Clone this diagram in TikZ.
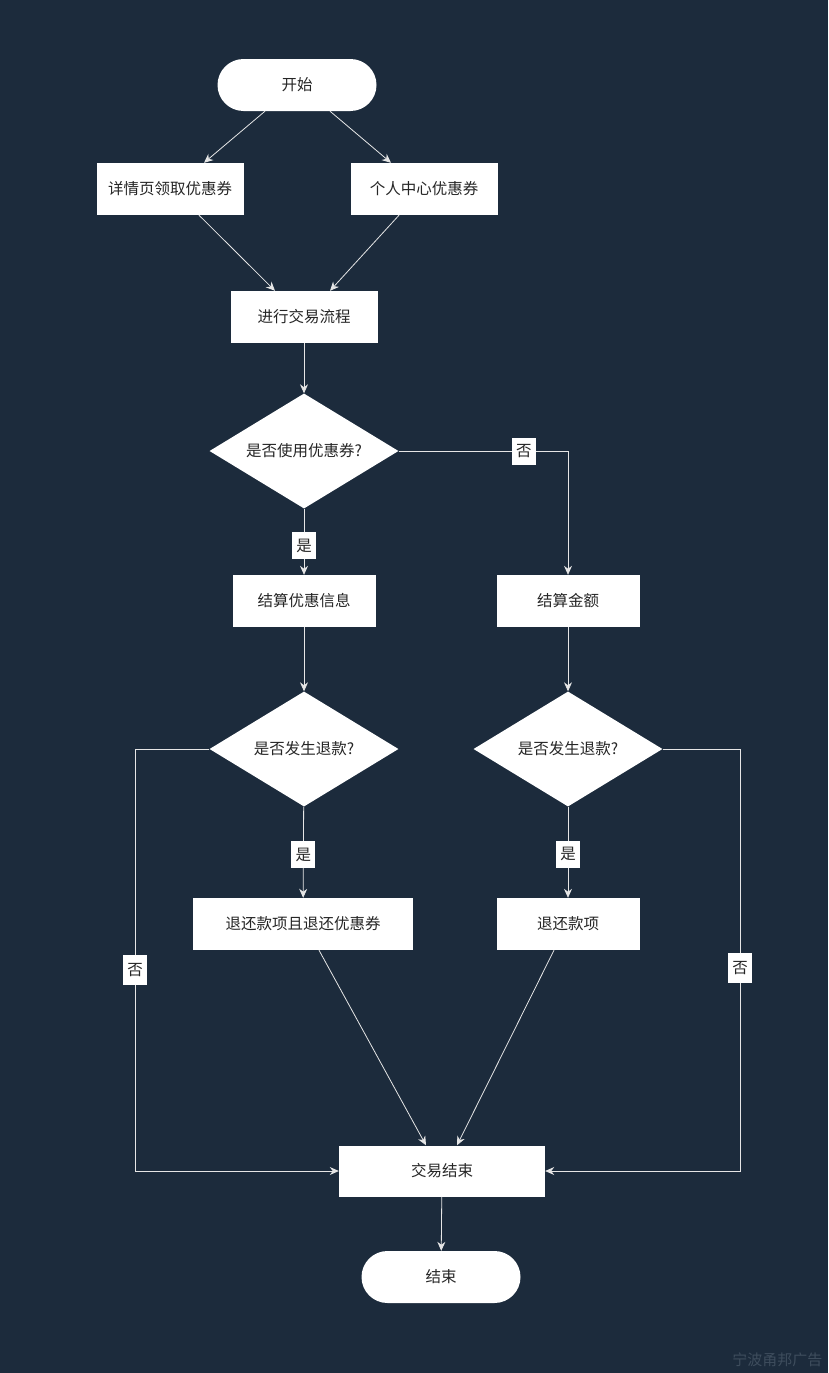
\documentclass[tikz,border=0pt]{standalone}
\usepackage{fontspec}
\setmainfont{Noto Sans CJK SC}
\usepackage{xcolor}
\usetikzlibrary{shapes,arrows,arrows.meta,positioning,calc}
\definecolor{bgnavy}{HTML}{1C2B3C}
\definecolor{edgegray}{HTML}{E6E6E6}
\definecolor{markgray}{HTML}{3E4D5D}

\begin{document}
\begin{tikzpicture}[
  x=1pt, y=-1pt,
  block/.style={fill=white, minimum width=147pt, minimum height=52pt, align=center, font=\fontsize{15.5}{18}\selectfont, text=black!85},
  term/.style={block, rounded corners=26pt, minimum width=159pt},
  decide/.style={diamond, fill=white, aspect=1.64, inner sep=0pt, minimum width=189pt, minimum height=115pt, align=center, font=\fontsize{15.5}{18}\selectfont, text=black!85},
  lbl/.style={fill=white, inner sep=3pt, minimum width=24pt, minimum height=27pt, font=\fontsize{15.5}{18}\selectfont, text=black!85},
  arrow/.style={-{Stealth[length=9pt, width=8pt]}, draw=edgegray, line width=0.8pt}
]
  % Background
  \fill[bgnavy] (0,0) rectangle (828,1373);

  % Start
  \node[term] (start) at (297, 85) {开始};

  % Coupon sources
  \node[block] (detail) at (170, 189) {详情页领取优惠券};
  \node[block] (center) at (424, 189) {个人中心优惠券};

  % Trade
  \node[block] (trade) at (304, 317) {进行交易流程};
  \node[decide] (use) at (304, 451) {是否使用优惠券?};

  % Settlement
  \node[block, minimum width=143pt] (calc) at (304, 601) {结算优惠信息};
  \node[block, minimum width=143pt] (pay) at (568, 601) {结算金额};

  % Refund checks
  \node[decide] (ref1) at (304, 749) {是否发生退款?};
  \node[decide] (ref2) at (568, 749) {是否发生退款?};

  % Refund actions
  \node[block, minimum width=220pt] (back1) at (303, 924) {退还款项且退还优惠券};
  \node[block, minimum width=143pt] (back2) at (568, 924) {退还款项};

  % End
  \node[block, minimum width=206pt, minimum height=51pt] (done) at (442, 1171) {交易结束};
  \node[term] (stop) at (441, 1277) {结束};

  % Corners of the side lines
  \coordinate (lcorner) at (135, 1171);
  \coordinate (rcorner) at (740, 1171);

  % Arrows
  \draw[arrow] ([xshift=-32pt]start.south) -- ([xshift=34pt]detail.north);
  \draw[arrow] ([xshift=33pt]start.south) -- ([xshift=-33pt]center.north);
  \draw[arrow] ([xshift=29pt]detail.south) -- ([xshift=-29pt]trade.north);
  \draw[arrow] ([xshift=-25pt]center.south) -- ([xshift=26pt]trade.north);
  \draw[arrow] (trade) -- (use);
  \draw[arrow] (use) -- node[lbl, pos=0.56] {是} (calc);
  \draw[arrow] (use.east) -| node[lbl, pos=0.37] {否} (pay.north);
  \draw[arrow] (calc) -- (ref1);
  \draw[arrow] (pay) -- (ref2);
  \draw[arrow] (ref1) -- node[lbl, pos=0.53] {是} (back1);
  \draw[arrow] (ref2) -- node[lbl, pos=0.52] {是} (back2);
  \draw[arrow] (ref1.west) -| node[lbl, pos=0.762, minimum height=30pt] {否} (lcorner) -- (done.west);
  \draw[arrow] (ref2.east) -| node[lbl, pos=0.759, minimum height=30pt] {否} (rcorner) -- (done.east);
  \draw[arrow] ([xshift=16pt]back1.south) -- ([xshift=-16pt]done.north);
  \draw[arrow] ([xshift=-14pt]back2.south) -- ([xshift=15pt]done.north);
  \draw[arrow] (done) -- (stop);

  % Watermark
  \node[text=markgray, font=\fontsize{15}{17}\selectfont, anchor=east] (mark) at (826, 1360) {宁波甬邦广告};
\end{tikzpicture}
\end{document}
